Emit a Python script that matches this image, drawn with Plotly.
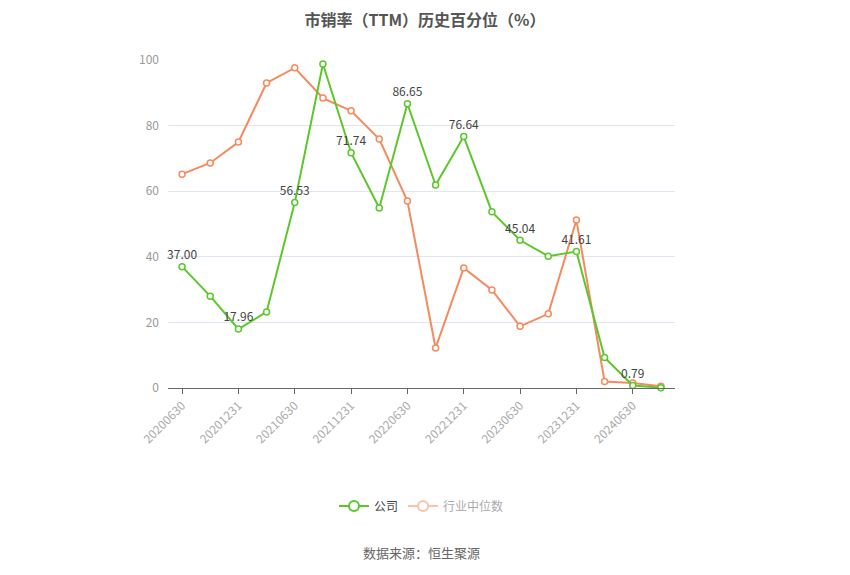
import plotly.graph_objects as go

dates = ["20200630","20200930","20201231","20210331","20210630","20210930",
         "20211231","20220331","20220630","20220930","20221231","20230331",
         "20230630","20230930","20231231","20240331","20240630","20240930"]
company = [37.00, 28.0, 17.96, 23.2, 56.53, 98.8, 71.74, 54.9, 86.65, 61.9,
           76.64, 53.7, 45.04, 40.2, 41.61, 9.3, 0.79, 0.1]
industry = [65.2, 68.6, 75.0, 93.0, 97.6, 88.4, 84.5, 75.9, 57.0, 12.2,
            36.6, 29.9, 18.8, 22.6, 51.2, 2.0, 1.5, 0.5]
tick_labels = dates[::2]

green = "#5cc72c"
orange = "#f58a5f"
font_family = "Noto Sans CJK SC, Noto Sans, sans-serif"

labels = [f"{v:.2f}<br> " if i % 2 == 0 else "" for i, v in enumerate(company)]

fig = go.Figure()
fig.add_trace(go.Scatter(
    x=dates, y=industry, mode="lines+markers", name="行业中位数",
    line=dict(color=orange, width=2),
    marker=dict(symbol="circle", size=6, color="white", line=dict(color=orange, width=1.5)),
    showlegend=False, cliponaxis=False))
fig.add_trace(go.Scatter(
    x=dates, y=company, mode="lines+markers+text", name="公司",
    text=[f"{v:.2f}" if i % 2 == 0 else "" for i, v in enumerate(company)],
    textposition="top center",
    textfont=dict(color="#444444", size=12, family=font_family),
    line=dict(color=green, width=2),
    marker=dict(symbol="circle", size=6, color="white", line=dict(color=green, width=1.5)),
    showlegend=False, cliponaxis=False))
# legend entries
fig.add_trace(go.Scatter(
    x=[None], y=[None], mode="lines+markers", name="公司",
    line=dict(color=green, width=2),
    marker=dict(symbol="circle", size=10, color="white", line=dict(color=green, width=2))))
fig.add_trace(go.Scatter(
    x=[None], y=[None], mode="lines+markers",
    name='<span style="color:#aaaaaa">行业中位数</span>',
    line=dict(color="#f9c3ad", width=2),
    marker=dict(symbol="circle", size=10, color="white", line=dict(color="#f9c3ad", width=2))))

fig.update_layout(
    width=850, height=575,
    margin=dict(l=168, r=175, t=60, b=187),
    paper_bgcolor="white", plot_bgcolor="white",
    font=dict(family=font_family, color="#999999", size=12),
    title=dict(text="<b>市销率（TTM）历史百分位（%）</b>", x=0.5, xanchor="center",
               y=0.975, yanchor="top",
               font=dict(size=16, color="#555555", family=font_family)),
    showlegend=True,
    legend=dict(orientation="h", x=0.5, xanchor="center", y=-0.36, yanchor="middle",
                font=dict(size=12, color="#444444", family=font_family),
                itemwidth=30, bgcolor="rgba(0,0,0,0)"),
    annotations=[dict(text="数据来源：恒生聚源", x=0.5, xref="paper", y=-0.503, yref="paper",
                      xanchor="center", yanchor="middle", showarrow=False,
                      font=dict(size=13, color="#666666", family=font_family))],
)
fig.update_xaxes(
    type="category", categoryorder="array", categoryarray=dates,
    tickmode="array", tickvals=tick_labels, ticktext=tick_labels,
    tickangle=-45, showgrid=False, showline=True, linecolor="#666666", linewidth=1,
    ticks="outside", ticklen=5, tickcolor="#666666",
    tickfont=dict(size=12, color="#aaaaaa"), range=[-0.5, 17.5], zeroline=False)
fig.update_yaxes(
    range=[0, 100], tickvals=[0, 20, 40, 60, 80, 100], showgrid=True,
    gridcolor="#e0e6f1", gridwidth=1, zeroline=False, showline=False,
    tickfont=dict(size=12, color="#999999"), ticks="", ticklabelstandoff=8)

fig.write_html("out.html")
